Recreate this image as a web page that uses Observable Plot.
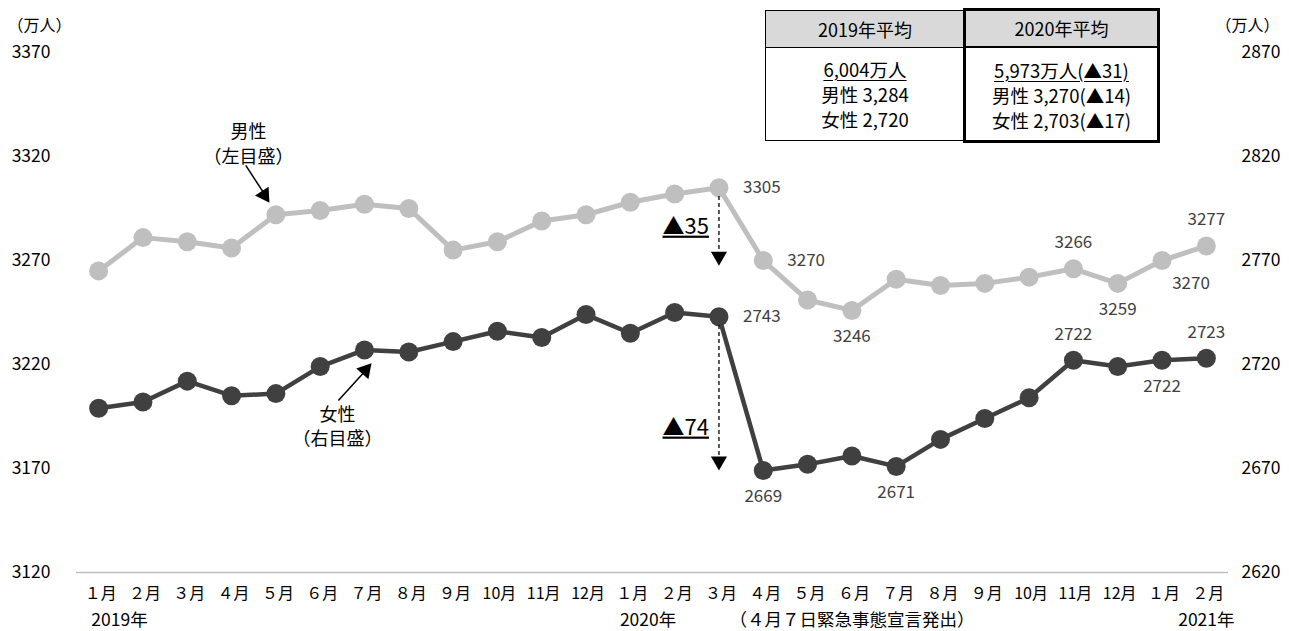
<!DOCTYPE html>
<html><head><meta charset="utf-8">
<script src="https://cdn.jsdelivr.net/npm/d3@7"></script>
<script src="https://cdn.jsdelivr.net/npm/@observablehq/plot@0.6"></script>
<style>
body{margin:0;background:#fff;font-family:"Noto Sans CJK JP",sans-serif;}
#wrap{position:relative;width:1289px;height:631px;overflow:hidden;}
.box{position:absolute;box-sizing:border-box;background:#fff;color:#000;text-align:center;}
.box .hd{background:#d9d9d9;height:37px;line-height:37px;box-sizing:border-box;font-size:18px;}
.box .bd{padding-top:9px;line-height:25px;font-size:18.5px;}
#b1{left:765px;top:10px;width:200px;height:131px;border:1.5px solid #000;}
#b1 .hd{border-bottom:1.5px solid #000;}
#b2{left:963px;top:8px;width:197px;height:135px;border:3px solid #000;}
#b2 .hd{border-bottom:2px solid #000;height:37px;line-height:35px;}
#b2 .bd{padding-top:10px;}
u{text-underline-offset:3px;}
</style></head><body><div id="wrap"></div>
<script>
// ---- data ----
const months = ["１月","２月","３月","４月","５月","６月","７月","８月","９月","10月","11月","12月",
                "１月","２月","３月","４月","５月","６月","７月","８月","９月","10月","11月","12月",
                "１月","２月"];
const years = ["2019年","2020年","2021年"];
const male = [3265,3281,3279,3276,3292,3294,3297,3295,3275,3279,3289,3292,
              3298,3302,3305,3270,3251,3246,3261,3258,3259,3262,3266,3259,
              3270,3277];
const female = [2699,2702,2712,2705,2706,2719,2727,2726,2731,2736,2733,2744,
                2735,2745,2743,2669,2672,2676,2671,2684,2694,2704,2722,2719,
                2722,2723];
const leftTicks = [3120,3170,3220,3270,3320,3370];
const rightTicks = [2620,2670,2720,2770,2820,2870];
const offset = 500; // right axis 2620 aligned with left 3120
// labelled points: index and label placement
const maleLabelIdx = [[14,"right"],[15,"right"],[17,"below"],[22,"above"],[23,"below"],[24,"belowright"],[25,"above"]];
const femaleLabelIdx = [[14,"right"],[15,"below"],[18,"below"],[22,"above"],[24,"below"],[25,"above"]];

// ---- build ----
const idx = d3.range(months.length);
const maleData = idx.map(i => ({i, v: male[i]}));
const femData = idx.map(i => ({i, v: female[i], y: female[i] + offset}));
const place = {right:{dx:24,dy:0,a:"start"}, below:{dx:0,dy:26,a:"middle"}, above:{dx:0,dy:-26,a:"middle"}, belowright:{dx:29,dy:23,a:"middle"}};
const labels = [
  ...maleLabelIdx.map(([i,p]) => ({i, y: male[i], t: String(male[i]), p})),
  ...femaleLabelIdx.map(([i,p]) => ({i, y: female[i] + offset, t: String(female[i]), p}))
];
const font = '"Noto Sans CJK JP", sans-serif';
const labelMarks = Object.keys(place).map(k => Plot.text(labels.filter(d => d.p === k), {
  x: "i", y: "y", text: "t", dx: place[k].dx, dy: place[k].dy, textAnchor: place[k].a,
  fill: "#404040", fontSize: 17
}));

const chart = Plot.plot({
  width: 1289, height: 631,
  marginLeft: 76, marginRight: 61, marginTop: 52, marginBottom: 59,
  x: {domain: [-0.5, 25.5], axis: null},
  y: {domain: [3120, 3370], axis: null},
  style: {fontFamily: font, fontSize: "16px", background: "#fff", color: "#000", overflow: "visible"},
  marks: [
    Plot.ruleY([3120], {stroke: "#bfbfbf", strokeWidth: 1.5}),
    Plot.text(leftTicks, {x: -0.5, y: d => d, text: d => String(d), textAnchor: "end", dx: -26, fontSize: 17.5}),
    Plot.text(rightTicks, {x: 25.5, y: d => d + offset, text: d => String(d), textAnchor: "start", dx: 13, fontSize: 17.5}),
    Plot.text(["（万人）"], {x: -0.5, y: 3370, text: d => d, textAnchor: "start", dx: -69, dy: -27, fontSize: 16}),
    Plot.text(["（万人）"], {x: 25.5, y: 3370, text: d => d, textAnchor: "start", dx: -13, dy: -27, fontSize: 16}),
    Plot.text(months, {x: (d, i) => i, y: 3120, text: d => d, dy: 21, dx: 2, fontSize: 16}),
    Plot.text(years, {x: [0.47, 12.4, 25], y: 3120, text: d => d, dy: 48, fontSize: 17.5}),
    Plot.text(["（４月７日緊急事態宣言発出）"], {x: 17, y: 3120, text: d => d, dy: 48, fontSize: 17.5}),
    // series
    Plot.line(maleData, {x: "i", y: "v", stroke: "#bfbfbf", strokeWidth: 5}),
    Plot.dot(maleData, {x: "i", y: "v", r: 9.5, fill: "#bfbfbf"}),
    Plot.line(femData, {x: "i", y: "y", stroke: "#404040", strokeWidth: 4.5}),
    Plot.dot(femData, {x: "i", y: "y", r: 9.5, fill: "#404040"}),
    ...labelMarks,
    // drop annotations
    Plot.link([{x: 14, y1: male[14] - 4, y2: 3274}], {x1: "x", x2: "x", y1: "y1", y2: "y2", stroke: "#000", strokeWidth: 1.3, strokeDasharray: "4,3"}),
    Plot.dot([{x: 14, y: 3272}], {x: "x", y: "y", symbol: "triangle", r: 6, fill: "#000", rotate: 180}),
    Plot.link([{x: 14, y1: female[14] + offset - 4, y2: 3176}], {x1: "x", x2: "x", y1: "y1", y2: "y2", stroke: "#000", strokeWidth: 1.3, strokeDasharray: "4,3"}),
    Plot.dot([{x: 14, y: 3173.5}], {x: "x", y: "y", symbol: "triangle", r: 6, fill: "#000", rotate: 180}),
    Plot.text(["▲35"], {x: 14, y: 3286.3, text: d => d, textAnchor: "end", dx: -10, fontSize: 22, fill: "#000"}),
    Plot.text(["▲74"], {x: 14, y: 3189.7, text: d => d, textAnchor: "end", dx: -10, fontSize: 22, fill: "#000"}),
    // series name callouts
    Plot.text(["男性\n（左目盛）"], {x: 3.38, y: 3326.6, text: d => d, fontSize: 18, lineHeight: 1.38, fill: "#000"}),
    Plot.link([{x1: 3.32, y1: 3315.7, x2: 3.74, y2: 3302}], {x1: "x1", y1: "y1", x2: "x2", y2: "y2", stroke: "#000", strokeWidth: 1.5}),
    Plot.dot([{x: 3.74, y: 3301.5}], {x: "x", y: "y", symbol: "triangle", r: 6, fill: "#000", rotate: 147}),
    Plot.text(["女性\n（右目盛）"], {x: 5.39, y: 3190.9, text: d => d, fontSize: 18, lineHeight: 1.38, fill: "#000"}),
    Plot.link([{x1: 5.41, y1: 3202.7, x2: 6.0, y2: 3216.5}], {x1: "x1", y1: "y1", x2: "x2", y2: "y2", stroke: "#000", strokeWidth: 1.5}),
    Plot.dot([{x: 6.02, y: 3217.2}], {x: "x", y: "y", symbol: "triangle", r: 6, fill: "#000", rotate: 41})
  ]
});
d3.select(chart).selectAll("text").filter(function(){ return this.textContent.startsWith("▲"); })
  .style("text-decoration", "underline");
const wrap = document.getElementById("wrap");
wrap.appendChild(chart);

// summary table (annotation)
const tbl = document.createElement("div");
tbl.innerHTML = `
<div class="box" id="b1"><div class="hd">2019年平均</div>
<div class="bd"><u>6,004万人</u><br>男性 3,284<br>女性 2,720</div></div>
<div class="box" id="b2"><div class="hd">2020年平均</div>
<div class="bd"><u>5,973万人(▲31)</u><br>男性 3,270(▲14)<br>女性 2,703(▲17)</div></div>`;
wrap.appendChild(tbl);
</script>
</body></html>
